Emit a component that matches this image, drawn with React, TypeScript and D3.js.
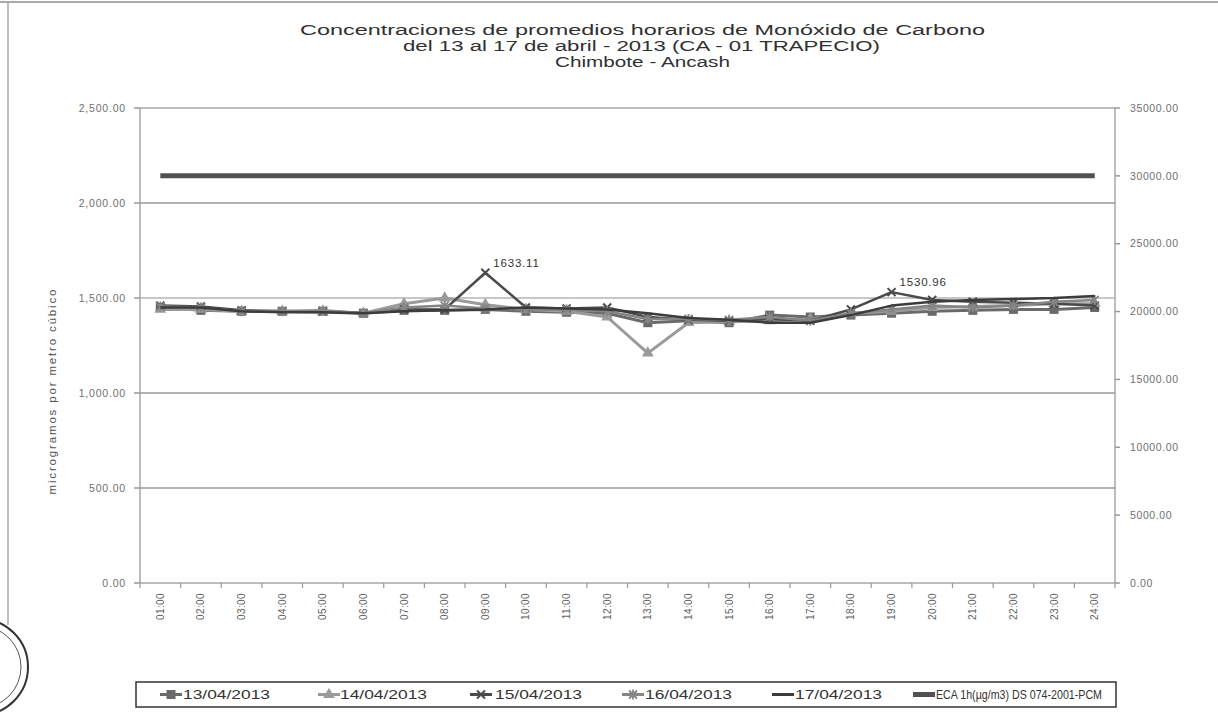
import React from "react";
import * as d3 from "d3";

const hours = ["01:00","02:00","03:00","04:00","05:00","06:00","07:00","08:00","09:00","10:00","11:00","12:00","13:00","14:00","15:00","16:00","17:00","18:00","19:00","20:00","21:00","22:00","23:00","24:00"];
const d13 = [1450,1435,1430,1430,1430,1420,1435,1435,1440,1430,1425,1420,1370,1380,1370,1410,1400,1410,1420,1430,1435,1440,1440,1450];
const d14 = [1440,1440,1430,1430,1425,1420,1470,1500,1465,1440,1430,1400,1210,1370,1375,1380,1390,1420,1430,1450,1455,1460,1470,1470];
const d15 = [1460,1455,1435,1430,1430,1420,1440,1440,1633.11,1450,1445,1450,1400,1385,1380,1390,1380,1440,1530.96,1490,1480,1475,1470,1460];
const d16 = [1455,1450,1430,1430,1435,1420,1450,1460,1445,1440,1440,1430,1390,1390,1385,1400,1380,1420,1440,1460,1450,1460,1480,1490];
const d17 = [1450,1450,1430,1425,1425,1420,1430,1435,1440,1450,1445,1440,1420,1395,1385,1370,1370,1410,1460,1480,1490,1495,1500,1510];
const eca = hours.map(() => 30000);
const leftTicks = [0, 500, 1000, 1500, 2000, 2500];
const rightTicks = [0, 5000, 10000, 15000, 20000, 25000, 30000, 35000];
const seriesNames = ["13/04/2013","14/04/2013","15/04/2013","16/04/2013","17/04/2013","ECA 1h(µg/m3) DS 074-2001-PCM"];
const annotations = [{ i: 8, v: 1633.11, t: "1633.11" }, { i: 18, v: 1530.96, t: "1530.96" }];
const titleLines = ["Concentraciones de promedios horarios de Monóxido de Carbono", "del 13 al 17 de abril - 2013 (CA - 01 TRAPECIO)", "Chimbote - Ancash"];

const L = 140, R = 1115, T = 108, B = 583;

function Marker({ kind, x, y, color }: { kind: string; x: number; y: number; color: string }) {
  if (kind === "square") return <rect x={x - 4.5} y={y - 4.5} width={9} height={9} fill={color} />;
  if (kind === "triangle") return <path d={d3.symbol(d3.symbolTriangle, 60)() || ""} transform={`translate(${x},${y})`} fill={color} />;
  if (kind === "x") return <path d={`M${x-4},${y-4}L${x+4},${y+4}M${x-4},${y+4}L${x+4},${y-4}`} stroke={color} strokeWidth={2} />;
  if (kind === "star") return <path d={`M${x-4},${y-4}L${x+4},${y+4}M${x-4},${y+4}L${x+4},${y-4}M${x},${y-5}L${x},${y+5}`} stroke={color} strokeWidth={1.8} />;
  return null;
}

export default function App() {
  const x = d3.scaleBand<string>().domain(hours).range([L, R]);
  const yL = d3.scaleLinear().domain([0, 2500]).range([B, T]);
  const yR = d3.scaleLinear().domain([0, 35000]).range([B, T]);
  const cx = (h: string) => (x(h) || 0) + x.bandwidth() / 2;
  const line = d3.line<number>().x((_, i) => cx(hours[i])).y((v) => yL(v));
  const lineR = d3.line<number>().x((_, i) => cx(hours[i])).y((v) => yR(v));

  const series = [
    { data: d13, color: "#6a6a6a", marker: "square", w: 3 },
    { data: d14, color: "#9a9a9a", marker: "triangle", w: 3 },
    { data: d15, color: "#4a4a4a", marker: "x", w: 2.5 },
    { data: d16, color: "#858585", marker: "star", w: 2.5 },
    { data: d17, color: "#3c3c3c", marker: "none", w: 2.5 },
  ];

  const legendX = [160, 318, 470, 622, 772, 913];
  const legendTextSpan = [[183, 270], [340, 427], [495, 582], [645, 732], [795, 882], [936, 1102]];
  const legendColors = ["#6a6a6a", "#9a9a9a", "#4a4a4a", "#858585", "#3c3c3c", "#505050"];
  const legendMarkers = ["square", "triangle", "x", "star", "none", "none"];
  const titleSpans = [[300, 985], [403, 880], [555, 730]];

  return (
    <svg width={1218} height={717} style={{ position: "absolute", left: 0, top: 0, background: "#fff" }} fontFamily="'Liberation Sans', Arial, sans-serif">
      <rect x={0} y={0} width={1218} height={717} fill="#fff" />
      {/* page frame */}
      <line x1={0} x2={1218} y1={2} y2={2} stroke="#aaa" strokeWidth={2} />
      <line x1={8} x2={8} y1={2} y2={625} stroke="#aaa" strokeWidth={1.5} />
      {/* stamp */}
      <circle cx={-20} cy={667} r={48} fill="none" stroke="#333" strokeWidth={2} />
      <circle cx={-20} cy={667} r={41} fill="none" stroke="#555" strokeWidth={1} />

      {/* title */}
      {titleLines.map((t, i) => (
        <text key={i} x={titleSpans[i][0]} y={35 + i * 16} fontSize={15.5} fill="#303030"
          textLength={titleSpans[i][1] - titleSpans[i][0]} lengthAdjust="spacingAndGlyphs">{t}</text>
      ))}

      {/* plot border */}
      <rect x={L} y={T} width={R - L} height={B - T} fill="none" stroke="#a8a8a8" strokeWidth={1.5} />
      {/* gridlines */}
      {leftTicks.filter((v) => v > 0 && v < 2500).map((v) => (
        <line key={v} x1={L} x2={R} y1={yL(v)} y2={yL(v)} stroke={v === 1500 ? "#b5b5b5" : "#9a9a9a"} strokeWidth={1.6} />
      ))}
      {/* left axis */}
      {leftTicks.map((v) => (
        <g key={v}>
          <line x1={L - 6} x2={L} y1={yL(v)} y2={yL(v)} stroke="#999" strokeWidth={1.5} />
          <text x={126} y={yL(v)} dy="0.35em" textAnchor="end" fontSize={10.5} letterSpacing={0.8} fill="#707070">{d3.format(",.2f")(v)}</text>
        </g>
      ))}
      <text transform={`translate(52,392) rotate(-90)`} textAnchor="middle" dy="0.35em" fontSize={11.5} fill="#555"
        textLength={205} lengthAdjust="spacing">microgramos por metro cúbico</text>
      {/* right axis */}
      {rightTicks.map((v) => (
        <g key={v}>
          <line x1={R} x2={R + 5} y1={yR(v)} y2={yR(v)} stroke="#999" strokeWidth={1.5} />
          <text x={1130} y={yR(v)} dy="0.35em" textAnchor="start" fontSize={10.5} letterSpacing={0.6} fill="#707070">{d3.format(".2f")(v)}</text>
        </g>
      ))}
      {/* x axis */}
      {hours.map((h) => (
        <g key={h}>
          <line x1={(x(h) || 0)} x2={(x(h) || 0)} y1={B} y2={B + 5} stroke="#999" strokeWidth={1.2} />
          <text transform={`translate(${cx(h)},593) rotate(-90)`} textAnchor="end" dy="0.35em" fontSize={10} letterSpacing={0.4} fill="#606060">{h}</text>
        </g>
      ))}
      <line x1={R} x2={R} y1={B} y2={B + 5} stroke="#999" strokeWidth={1.2} />

      {/* ECA line */}
      <path d={lineR(eca) || ""} fill="none" stroke="#505050" strokeWidth={5} />

      {/* data series */}
      {series.map((s, si) => (
        <g key={si}>
          <path d={line(s.data) || ""} fill="none" stroke={s.color} strokeWidth={s.w} strokeLinejoin="round" />
          {s.data.map((v, i) => <Marker key={i} kind={s.marker} x={cx(hours[i])} y={yL(v)} color={s.color} />)}
        </g>
      ))}

      {/* annotations */}
      {annotations.map((a) => (
        <text key={a.t} x={cx(hours[a.i]) + 8} y={yL(a.v) - 6} fontSize={11.5} letterSpacing={0.8} fill="#333">{a.t}</text>
      ))}

      {/* legend */}
      <rect x={136} y={682} width={980} height={25} fill="#fff" stroke="#333" strokeWidth={1.5} />
      {seriesNames.map((n, i) => (
        <g key={n}>
          <line x1={legendX[i]} x2={legendX[i] + 22} y1={694.5} y2={694.5} stroke={legendColors[i]} strokeWidth={i === 5 ? 5 : 3} />
          <Marker kind={legendMarkers[i]} x={legendX[i] + 11} y={694.5} color={legendColors[i]} />
          <text x={legendTextSpan[i][0]} y={694.5} dy="0.35em" fontSize={13.5} fill="#333"
            textLength={legendTextSpan[i][1] - legendTextSpan[i][0]} lengthAdjust="spacingAndGlyphs">{n}</text>
        </g>
      ))}
    </svg>
  );
}
